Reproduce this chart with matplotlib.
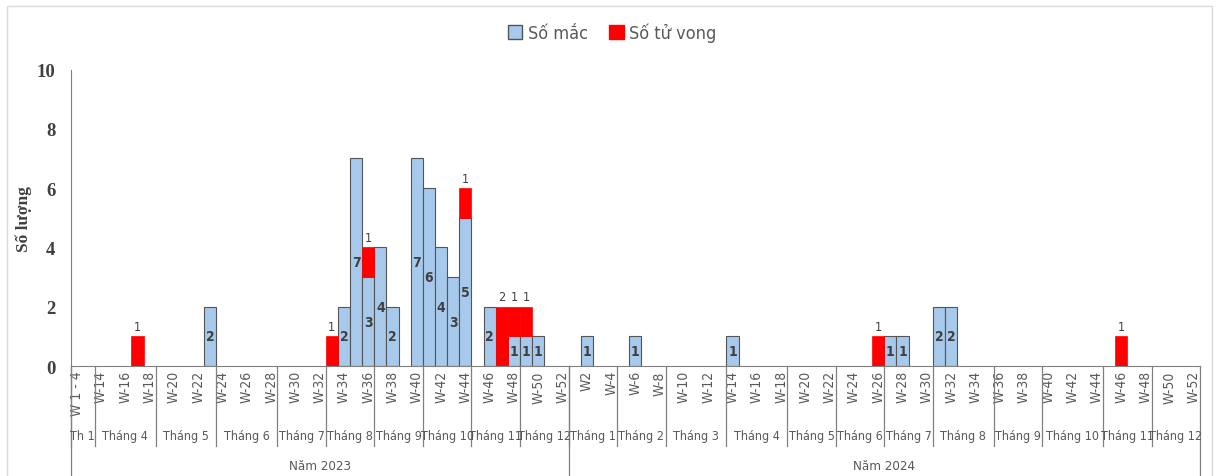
import matplotlib
matplotlib.use("Agg")
import matplotlib.pyplot as plt
import matplotlib.transforms as mtransforms
from matplotlib.patches import Rectangle, Patch
import numpy as np

# week slots on the category axis
weeks_2023 = ["W 1 - 4", "W 5 - 13"] + ["W-%d" % w for w in range(14, 53)]
weeks_2024 = ["W1", "W2", "W3"] + ["W-%d" % w for w in range(4, 53)]

# number of cases (blue) per week slot
cases_2023 = [0, 0,
              0, 0, 0, 0, 0,    # W14-18
              0, 0, 0, 0, 2,    # W19-23
              0, 0, 0, 0, 0,    # W24-28
              0, 0, 0, 0,       # W29-32
              0, 2, 7, 3,       # W33-36
              4, 2, 0, 7,       # W37-40
              6, 4, 3, 5,       # W41-44
              0, 2, 0, 1,       # W45-48
              1, 1, 0, 0]       # W49-52
deaths_2023 = [0, 0,
               0, 0, 0, 1, 0,
               0, 0, 0, 0, 0,
               0, 0, 0, 0, 0,
               0, 0, 0, 0,
               1, 0, 0, 1,
               0, 0, 0, 0,
               0, 0, 0, 1,
               0, 0, 2, 1,
               1, 0, 0, 0]

cases_2024 = [0, 1, 0, 0,       # W1-4
              0, 1, 0, 0,       # W5-8
              0, 0, 0, 0, 0,    # W9-13
              1, 0, 0, 0, 0,    # W14-18
              0, 0, 0, 0,       # W19-22
              0, 0, 0, 0,       # W23-26
              1, 1, 0, 0,       # W27-30
              2, 2, 0, 0, 0,    # W31-35
              0, 0, 0, 0,       # W36-39
              0, 0, 0, 0, 0,    # W40-44
              0, 0, 0, 0,       # W45-48
              0, 0, 0, 0]       # W49-52
deaths_2024 = [0, 0, 0, 0,
               0, 0, 0, 0,
               0, 0, 0, 0, 0,
               0, 0, 0, 0, 0,
               0, 0, 0, 0,
               0, 0, 0, 1,
               0, 0, 0, 0,
               0, 0, 0, 0, 0,
               0, 0, 0, 0,
               0, 0, 0, 0, 0,
               0, 1, 0, 0,
               0, 0, 0, 0]

months_2023 = ["Th 1", "Tháng 4", "Tháng 5", "Tháng 6", "Tháng 7", "Tháng 8",
               "Tháng 9", "Tháng 10", "Tháng 11", "Tháng 12"]
month_weeks_2023 = [2, 5, 5, 5, 4, 4, 4, 4, 4, 4]
months_2024 = ["Tháng 1", "Tháng 2", "Tháng 3", "Tháng 4", "Tháng 5", "Tháng 6",
               "Tháng 7", "Tháng 8", "Tháng 9", "Tháng 10", "Tháng 11", "Tháng 12"]
month_weeks_2024 = [4, 4, 5, 5, 4, 4, 4, 5, 4, 5, 4, 4]
years = ["Năm 2023", "Năm 2024"]

weeks = weeks_2023 + weeks_2024
cases = np.array(cases_2023 + cases_2024)
deaths = np.array(deaths_2023 + deaths_2024)
x = np.arange(len(weeks))

narrow = dict(family="DejaVu Sans", stretch="condensed")
txt_col = "#404040"
gray_txt = "#595959"
blue = "#A7C9EB"
red = "#FF0000"

fig = plt.figure(figsize=(12.17, 4.77), dpi=100)
ax = fig.add_axes([0.0581, 0.2306, 0.928, 0.6216])

# light frame round the chart area
fig.patches.append(Rectangle((0.006, -0.02), 0.99, 1.005, transform=fig.transFigure,
                             fill=False, edgecolor="#d9d9d9", linewidth=1))

# only draw the non-empty segments so zero bars leave no edge lines
hc = cases > 0
hd = deaths > 0
ax.bar(x[hc], cases[hc], width=1.0, color=blue, edgecolor="#555555", linewidth=0.8)
ax.bar(x[hd], deaths[hd], width=1.0, bottom=cases[hd], color=red, edgecolor=red, linewidth=0.5)

for i in x:
    if cases[i] > 0:
        ax.text(i, cases[i] / 2, str(cases[i]), ha="center", va="center",
                fontsize=10, fontweight="bold", color=txt_col, **narrow)
    if deaths[i] > 0:
        ax.text(i, cases[i] + deaths[i] + 0.12, str(deaths[i]), ha="center", va="bottom",
                fontsize=9, color=txt_col, **narrow)

ax.set_xlim(-0.5, len(weeks) - 0.5)
ax.set_ylim(0, 10)
ax.set_yticks([0, 2, 4, 6, 8, 10])
for lab in ax.get_yticklabels():
    lab.set_family("Liberation Serif")
    lab.set_fontweight("bold")
    lab.set_fontsize(13.5)
    lab.set_color(txt_col)
ax.tick_params(axis="y", length=0, pad=11)
ax.set_ylabel("Số lượng", family="Liberation Serif", fontweight="bold",
              fontsize=12.5, color=txt_col)
ax.yaxis.set_label_coords(-0.034, 0.5)

ax.set_xticks(x[::2])
ax.set_xticklabels(weeks[::2], rotation=90, fontsize=10, color=gray_txt, **narrow)
ax.tick_params(axis="x", length=0, pad=3)

for s in ["top", "right"]:
    ax.spines[s].set_visible(False)
ax.spines["left"].set_color("#808080")
ax.spines["bottom"].set_color("#808080")

trans = mtransforms.blended_transform_factory(ax.transData, ax.transAxes)
line_kw = dict(color="#808080", linewidth=0.9, transform=trans, clip_on=False)

# month level
pos = -0.5
for names, spans in [(months_2023, month_weeks_2023), (months_2024, month_weeks_2024)]:
    for name, n in zip(names, spans):
        ax.text(pos + n / 2, -0.236, name, ha="center", va="center", transform=trans,
                fontsize=9, color=gray_txt, **narrow)
        ax.plot([pos, pos], [0, -0.27], **line_kw)
        pos += n

# year level
pos = -0.5
for name, n in zip(years, [len(weeks_2023), len(weeks_2024)]):
    ax.text(pos + n / 2, -0.334, name, ha="center", va="center", transform=trans,
            fontsize=9.5, color=gray_txt, **narrow)
    ax.plot([pos, pos], [0, -0.4], **line_kw)
    pos += n
ax.plot([pos, pos], [0, -0.4], **line_kw)

handles = [Patch(facecolor=blue, edgecolor="#555555", label="Số mắc"),
           Patch(facecolor=red, edgecolor=red, label="Số tử vong")]
fig.legend(handles=handles, loc="center", bbox_to_anchor=(0.503, 0.93), ncol=2,
           frameon=False, handlelength=0.8, handleheight=0.8, handletextpad=0.3,
           columnspacing=1.2, prop=dict(size=13, **narrow), labelcolor=gray_txt)

fig.savefig("out.png", dpi=100)
